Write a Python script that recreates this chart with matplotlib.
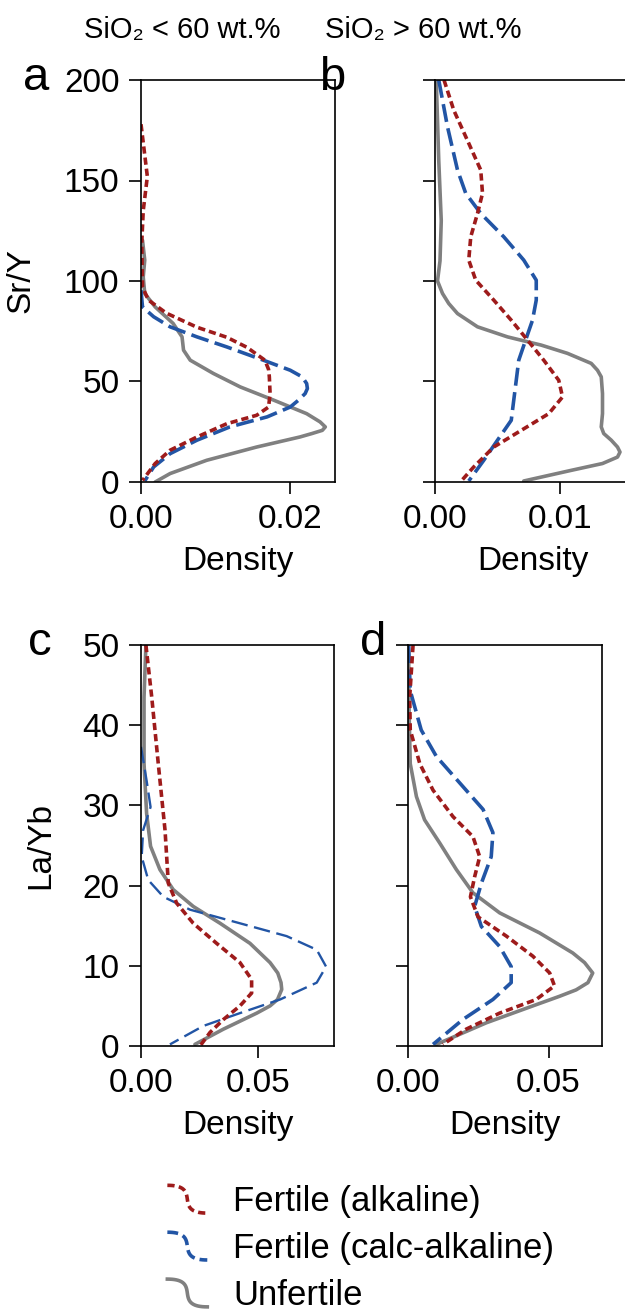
import numpy as np
import matplotlib
matplotlib.use("Agg")
import matplotlib.pyplot as plt
from matplotlib.legend_handler import HandlerBase
from matplotlib.lines import Line2D

plt.rcParams['font.family'] = ['Liberation Sans', 'DejaVu Sans']
plt.rcParams['font.size'] = 24

# --- data: (value, density) pairs ---
# panel a: Sr/Y, SiO2 < 60
a_alk_y = [178, 152, 135, 119, 97, 90.5, 84, 77, 72, 67, 60.6, 56, 52.3, 44, 37.3, 33.2, 29, 22.4, 15.8, 9.2, 0.8]
a_alk_x = [0.0, 0.00085, 0.0003, 0.0001, 0.0002, 0.001, 0.0034, 0.0075, 0.0115, 0.0142, 0.0166, 0.0171, 0.0172, 0.0173, 0.0171, 0.0155, 0.0115, 0.0075, 0.0039, 0.0019, 0.0002]
a_calc_y = [95.4, 87.1, 82.2, 77.2, 72.2, 67.2, 60.6, 55.6, 52.3, 49, 46.5, 44, 40.7, 37.3, 32.4, 27.4, 20.8, 14.1, 7.5, 0.5]
a_calc_x = [0.0, 0.0002, 0.0017, 0.0039, 0.0075, 0.0115, 0.0164, 0.020, 0.0216, 0.0222, 0.0223, 0.0220, 0.0211, 0.020, 0.0169, 0.0119, 0.0075, 0.0039, 0.0017, 0.0005]
a_unf_y = [120.3, 110.4, 102, 93.8, 87.1, 78.9, 72.2, 65.6, 60.6, 54, 47.3, 40.7, 34, 29.9, 27.4, 25.7, 24.1, 22.4, 17.4, 10.8, 4.2, 0]
a_unf_x = [0.0002, 0.0005, 0.0003, 0.0005, 0.0019, 0.0043, 0.0055, 0.0057, 0.0066, 0.0097, 0.0133, 0.0178, 0.0222, 0.0240, 0.0247, 0.0243, 0.0229, 0.0213, 0.0155, 0.0088, 0.0039, 0.0019]

# panel b: Sr/Y, SiO2 > 60
b_alk_y = [200, 185, 168.5, 155.2, 143.6, 133.6, 122, 110.4, 100.4, 90.5, 80.5, 70.6, 60.6, 50.6, 42.3, 34, 25.7, 17.4, 7.5, 0.5]
b_alk_x = [0.00072, 0.0015, 0.0027, 0.00366, 0.0038, 0.0034, 0.00286, 0.0027, 0.00326, 0.0047, 0.0061, 0.0074, 0.0087, 0.0099, 0.0102, 0.0091, 0.0069, 0.0047, 0.0031, 0.0021]
b_calc_y = [200, 176.7, 155.2, 143.6, 133.6, 122, 110.4, 100.4, 90.5, 80.5, 70.6, 60.6, 50.6, 40.7, 30.7, 20.8, 10.8, 0.5]
b_calc_x = [0.0003, 0.001, 0.0018, 0.00246, 0.00366, 0.0055, 0.0071, 0.0081, 0.0081, 0.0078, 0.00725, 0.0067, 0.0065, 0.0063, 0.0061, 0.005, 0.0039, 0.0027]
b_unf_y = [200, 160, 130, 110, 100, 93.8, 88.8, 83.8, 77.2, 72.2, 68.1, 64, 59, 55.6, 52.3, 44, 34, 27.4, 24.1, 20.8, 17.4, 14.9, 12.4, 9.2, 5.8, 0.5]
b_unf_x = [0.0001, 0.0003, 0.0005, 0.0004, 0.0002, 0.0006, 0.0011, 0.0018, 0.0034, 0.0058, 0.0085, 0.0106, 0.0125, 0.0130, 0.0133, 0.0134, 0.0134, 0.0133, 0.0135, 0.0141, 0.0146, 0.0148, 0.0146, 0.0134, 0.0109, 0.0071]

# panel c: La/Yb, SiO2 < 60
c_alk_y = [50, 43.5, 35.2, 26.9, 20.3, 17.8, 15.3, 12.8, 10.4, 8.3, 6.6, 5.0, 3.3, 1.7, 0]
c_alk_x = [0.0021, 0.0046, 0.0074, 0.0103, 0.0117, 0.0153, 0.0224, 0.0324, 0.0424, 0.0474, 0.0474, 0.0424, 0.0353, 0.0296, 0.0253]
c_calc_y = [37.3, 33.1, 29.8, 26.9, 23.6, 20.7, 18.6, 17, 15.3, 13.7, 12, 9.9, 7.9, 5.8, 4.1, 2.5, 0.2]
c_calc_x = [0.0, 0.0024, 0.0041, 0.0009, 0.0003, 0.0031, 0.0096, 0.021, 0.0424, 0.0624, 0.0753, 0.0793, 0.0753, 0.0596, 0.0424, 0.0267, 0.0124]
c_unf_y = [50, 43.5, 35.2, 29, 24.9, 22, 19.5, 17.4, 15.3, 12.8, 10.4, 9.1, 7.9, 7.05, 5.8, 5.0, 4.1, 2.1, 0.2]
c_unf_x = [0.0021, 0.0013, 0.0013, 0.0024, 0.0041, 0.0081, 0.0138, 0.0224, 0.0339, 0.0467, 0.0553, 0.0586, 0.0600, 0.0603, 0.0585, 0.0553, 0.0496, 0.0353, 0.0231]

# panel d: La/Yb, SiO2 > 60
d_alk_y = [50, 43.5, 39.4, 35.2, 31.9, 28.6, 26.1, 23.6, 21.1, 18.6, 16.1, 13.7, 11.2, 9.1, 7.5, 5.8, 4.1, 2.1, 0.2]
d_alk_x = [0.0018, 0.0006, 0.0008, 0.0042, 0.0089, 0.016, 0.0231, 0.0255, 0.0237, 0.0222, 0.0249, 0.035, 0.0444, 0.0504, 0.0521, 0.0456, 0.0326, 0.0207, 0.0124]
d_calc_y = [50, 44.3, 39.4, 36.1, 32.8, 29.5, 26.6, 23.6, 20.3, 17.4, 14.9, 12.4, 9.9, 7.9, 5.8, 3.3, 0.2]
d_calc_x = [0.0002, 0.0008, 0.0047, 0.0101, 0.0184, 0.0267, 0.0302, 0.0296, 0.0261, 0.0237, 0.0261, 0.0326, 0.0367, 0.0367, 0.0302, 0.0195, 0.0089]
d_unf_y = [50, 41.4, 35.2, 31.1, 28.2, 25.3, 22, 19.1, 16.6, 14.1, 11.6, 10.4, 9.1, 7.9, 7, 6.2, 5.0, 2.9, 0.2]
d_unf_x = [0.0002, 0.0004, 0.0008, 0.003, 0.0059, 0.0113, 0.0172, 0.0231, 0.0326, 0.0468, 0.0586, 0.0628, 0.0657, 0.0640, 0.0598, 0.0539, 0.0444, 0.0279, 0.0101]

labels = ['Fertile (alkaline)', 'Fertile (calc-alkaline)', 'Unfertile']
red = '#9e1b1b'
blue = '#2255a5'
grey = '#808080'
LW = 2.6

fig = plt.figure(figsize=(6.25, 13.11), dpi=100)

W, H = 625, 1311
def px_axes(l, t, r, b):
    return fig.add_axes([l / W, 1 - b / H, (r - l) / W, (b - t) / H])

ax_a = px_axes(141, 80, 335, 482)
ax_b = px_axes(435, 80, 630, 482)
ax_c = px_axes(141, 645, 334, 1046)
ax_d = px_axes(408, 645, 602, 1046)

panels = [
    (ax_a, a_alk_x, a_alk_y, a_calc_x, a_calc_y, a_unf_x, a_unf_y, 0.026, 200, [0, 0.02], np.arange(0, 201, 50), LW),
    (ax_b, b_alk_x, b_alk_y, b_calc_x, b_calc_y, b_unf_x, b_unf_y, 0.0156, 200, [0, 0.01], np.arange(0, 201, 50), LW),
    (ax_c, c_alk_x, c_alk_y, c_calc_x, c_calc_y, c_unf_x, c_unf_y, 0.0827, 50, [0, 0.05], np.arange(0, 51, 10), 1.7),
    (ax_d, d_alk_x, d_alk_y, d_calc_x, d_calc_y, d_unf_x, d_unf_y, 0.069, 50, [0, 0.05], np.arange(0, 51, 10), LW),
]

for ax, rx, ry, bx, by, gx, gy, xmax, ymax, xt, yt, blw in panels:
    ax.plot(gx, gy, color=grey, lw=LW, solid_capstyle='round', solid_joinstyle='round')
    ax.plot(bx, by, color=blue, lw=blw, dashes=(5, 1.8) if blw > 2 else (7, 2.8))
    ax.plot(rx, ry, color=red, lw=LW, dashes=(2, 1.1))
    ax.set_xlim(0, xmax)
    ax.set_ylim(0, ymax)
    ax.set_xticks(xt)
    ax.set_xticklabels(['%.2f' % v for v in xt])
    ax.set_yticks(yt)
    ax.tick_params(length=8.5, width=1.2, pad=7)
    for s in ax.spines.values():
        s.set_linewidth(1.2)
    ax.set_xlabel('Density', labelpad=8)

ax_a.set_ylabel('Sr/Y', labelpad=20)
ax_c.set_ylabel('La/Yb', labelpad=19)
ax_b.set_yticklabels([])
ax_d.set_yticklabels([])

fig.text(182 / W, 1 - 30 / H, 'SiO₂ < 60 wt.%', ha='center', va='center', fontsize=21)
fig.text(423 / W, 1 - 30 / H, 'SiO₂ > 60 wt.%', ha='center', va='center', fontsize=21)

for lab, x, y in [('a', 36, 78), ('b', 332, 78), ('c', 40, 643), ('d', 373, 643)]:
    fig.text(x / W, 1 - y / H, lab, ha='center', va='center', fontsize=34)


class SCurveHandler(HandlerBase):
    def create_artists(self, legend, orig_handle, xdescent, ydescent,
                       width, height, fontsize, trans):
        t = np.linspace(0, 1, 40)
        # cubic bezier S shape from top-left to bottom-right
        p0, p1, p2, p3 = (0, 1), (0.9, 1), (0.1, 0), (1, 0)
        bx = (1 - t) ** 3 * p0[0] + 3 * (1 - t) ** 2 * t * p1[0] + 3 * (1 - t) * t ** 2 * p2[0] + t ** 3 * p3[0]
        by = (1 - t) ** 3 * p0[1] + 3 * (1 - t) ** 2 * t * p1[1] + 3 * (1 - t) * t ** 2 * p2[1] + t ** 3 * p3[1]
        h = fontsize * 0.8
        xs = -xdescent + width * bx
        ys = -ydescent + height / 2 - h / 2 + h * by
        line = Line2D(xs, ys, color=orig_handle.get_color(), lw=orig_handle.get_linewidth())
        d = getattr(orig_handle, 'legend_dashes', None)
        if d is not None:
            line.set_dashes(d)
        line.set_transform(trans)
        return [line]


h_red = Line2D([], [], color=red, lw=LW)
h_red.legend_dashes = (2, 1.2)
h_blue = Line2D([], [], color=blue, lw=LW)
h_blue.legend_dashes = (3, 1.4)
h_grey = Line2D([], [], color=grey, lw=LW)
fig.legend([h_red, h_blue, h_grey], labels, loc='upper left',
           bbox_to_anchor=(150 / W, 1 - 1168 / H), frameon=False,
           handler_map={Line2D: SCurveHandler()}, handlelength=1.15,
           handletextpad=0.75, labelspacing=0.4, fontsize=25, borderpad=0)

fig.savefig('out.png', dpi=100)
